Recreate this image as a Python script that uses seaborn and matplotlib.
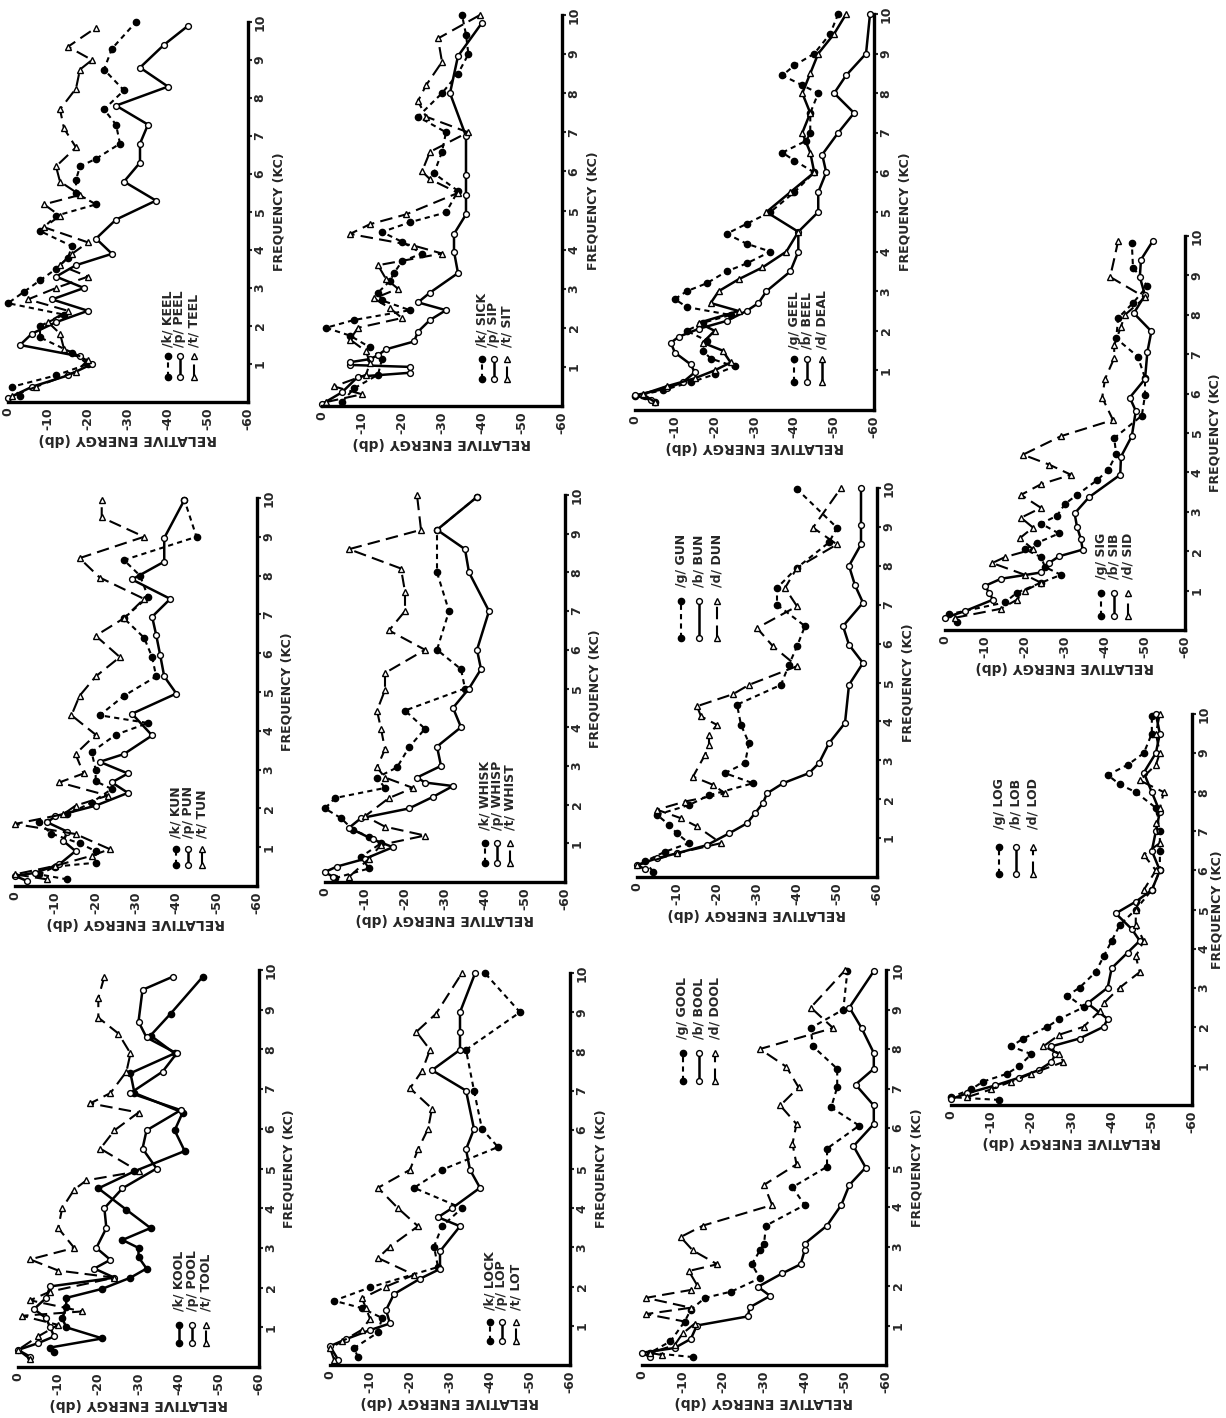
import matplotlib
matplotlib.use("Agg")
import matplotlib.pyplot as plt
import pandas as pd
import seaborn as sns

# Relative energy (dB) vs frequency (kHz): (kHz, dB)
keel_k = [(0.15,-3),(0.4,-1),(0.7,-12),(1.0,-20),(1.3,-16),(1.7,-8),(2.0,-8),(2.3,-14),(2.6,0),(2.9,-4),(3.2,-8),(3.5,-12),(3.8,-15),(4.1,-16),(4.5,-8),(4.9,-12),(5.2,-22),(5.5,-17),(5.85,-17),(6.2,-18),(6.4,-22),(6.8,-28),(7.3,-27),(7.7,-24),(8.2,-29),(8.75,-24),(9.3,-26),(10.0,-32)]
keel_p = [(0.1,0),(0.4,-6),(0.7,-15),(1.0,-21),(1.2,-18),(1.5,-3),(1.8,-6),(2.1,-12),(2.4,-20),(2.7,-11),(3.0,-19),(3.3,-12),(3.6,-17),(3.9,-26),(4.3,-22),(4.8,-27),(5.3,-37),(5.8,-29),(6.3,-33),(6.8,-33),(7.3,-35),(7.8,-27),(8.3,-40),(8.8,-33),(9.4,-39),(9.9,-45)]
keel_t = [(0.15,-1),(0.4,-7),(0.8,-17),(1.1,-20),(1.4,-14),(1.8,-13),(2.1,-10),(2.4,-15),(2.7,-5),(3.0,-12),(3.3,-20),(3.6,-13),(3.9,-16),(4.2,-20),(4.6,-9),(4.9,-13),(5.2,-9),(5.45,-18),(5.8,-13),(6.2,-12),(6.7,-17),(7.2,-14),(7.7,-13),(8.25,-17),(8.75,-18),(9.0,-21),(9.35,-15),(9.85,-22)]

sick_k = [(0.1,-5),(0.45,-8),(0.8,-14),(1.2,-15),(1.5,-12),(1.8,-7),(2.0,-1),(2.2,-8),(2.45,-22),(2.7,-15),(2.9,-14),(3.2,-17),(3.4,-18),(3.7,-20),(3.9,-25),(4.2,-20),(4.45,-15),(4.7,-22),(4.95,-31),(5.5,-34),(5.95,-28),(6.5,-30),(7.0,-31),(7.4,-24),(8.0,-30),(8.5,-34),(9.0,-36.6),(9.5,-36),(10.0,-35)]
sick_p = [(0.05,0),(0.35,-5),(0.75,-9),(0.85,-22),(1.0,-22),(1.05,-7),(1.12,-7),(1.2,-12),(1.3,-14),(1.45,-16),(1.65,-23),(1.9,-24),(2.2,-27),(2.45,-31),(2.65,-24),(2.9,-27),(3.4,-34),(3.95,-33),(4.4,-33),(4.9,-36),(5.4,-36),(5.9,-36),(6.9,-36),(8.0,-32),(8.95,-34),(9.8,-40)]
sick_t = [(0.1,-1),(0.3,-10),(0.5,-3),(0.8,-11),(1.1,-12),(1.4,-11),(1.7,-7),(2.0,-9),(2.25,-20),(2.5,-17),(2.75,-13),(3.0,-19),(3.25,-16),(3.6,-14),(3.9,-30),(4.1,-23),(4.4,-7),(4.65,-12),(4.9,-21),(5.45,-34),(5.8,-27),(6.0,-25),(6.5,-27),(7.0,-36.5),(7.4,-26),(7.8,-24),(8.2,-26),(8.8,-30),(9.4,-29),(10.0,-39.5)]

geel_g = [(0.2,-5),(0.35,0),(0.5,-7),(0.7,-14),(0.9,-20),(1.1,-25),(1.3,-19),(1.5,-17),(1.75,-18),(2.0,-13),(2.2,-17),(2.4,-24),(2.6,-13),(2.8,-10),(3.0,-13),(3.2,-18),(3.5,-23),(3.7,-28),(4.0,-34),(4.2,-28),(4.45,-23),(4.7,-28),(5.0,-34),(5.5,-40),(6.0,-45),(6.3,-40),(6.5,-37),(6.8,-43),(7.0,-44),(7.5,-44),(8.0,-46),(8.2,-42),(8.45,-37),(8.7,-40),(9.0,-45),(9.5,-49),(10.0,-51)]
geel_b = [(0.25,-4),(0.37,0),(0.55,-8),(0.7,-12),(0.95,-15),(1.15,-14),(1.45,-10),(1.7,-9),(1.85,-11),(2.05,-16),(2.25,-23),(2.5,-28),(2.7,-31),(3.0,-33),(3.5,-39),(4.0,-41),(4.5,-41),(5.0,-46),(5.5,-46),(6.0,-48),(6.45,-47),(7.0,-51),(7.5,-55),(8.0,-50),(8.45,-53),(9.0,-58),(10.0,-59)]
geel_d = [(0.2,-5),(0.4,-2),(0.6,-8),(0.8,-15),(1.0,-20),(1.2,-24),(1.5,-22),(1.7,-17),(2.0,-20),(2.2,-16),(2.5,-26),(2.7,-19),(3.0,-21),(3.3,-26),(3.6,-32),(4.0,-38),(4.5,-41),(5.0,-33),(5.5,-39),(6.0,-45),(6.5,-44),(7.0,-42),(7.5,-44),(8.0,-42),(8.5,-44),(9.0,-46),(9.5,-50),(10.0,-53)]

kun_k = [(0.17,-13),(0.3,-6),(0.5,-10),(0.6,-20),(0.9,-20),(1.1,-16),(1.35,-9),(1.64,-6),(1.85,-13),(2.15,-19),(2.5,-24),(2.7,-20),(3.0,-20),(3.45,-19),(3.9,-25),(4.2,-33),(4.4,-21),(4.9,-27),(5.4,-35),(5.9,-34),(6.4,-32),(6.9,-27),(7.45,-33),(8.0,-31),(8.4,-27),(9.0,-45),(9.95,-42)]
kun_p = [(0.13,-3),(0.26,0),(0.34,-5),(0.56,-11),(0.9,-15),(1.16,-12),(1.4,-13),(1.64,-8),(1.8,-10),(2.07,-20),(2.4,-28),(2.67,-24),(2.9,-28),(3.2,-21),(3.4,-27),(3.88,-34),(4.44,-29),(4.96,-40),(5.4,-37),(5.95,-36),(6.47,-35),(6.94,-34),(7.4,-38.5),(7.9,-29),(8.36,-37),(8.97,-37),(9.95,-42)]
kun_t = [(0.17,-8),(0.3,0),(0.52,-10),(0.78,-19),(0.95,-23.5),(1.34,-15),(1.6,0),(1.85,-12),(2.07,-15),(2.33,-23),(2.67,-11),(2.9,-17),(3.4,-15),(3.9,-20),(4.4,-14),(4.9,-16),(5.4,-20),(5.9,-26),(6.45,-20),(6.9,-27),(7.4,-32),(7.95,-21),(8.45,-16),(9.0,-32),(9.5,-21.5),(9.96,-21.5)]

whisk_k = [(0.1,-2.5),(0.35,-11),(0.65,-9),(1.0,-14),(1.17,-11),(1.35,-7),(1.65,-4),(1.9,0),(2.17,-2.5),(2.43,-15),(2.7,-13),(2.96,-18),(3.48,-21),(3.96,-25),(4.43,-20),(5.0,-35),(5.5,-34),(6.0,-28),(7.0,-31),(8.0,-28),(9.1,-28),(9.95,-38)]
whisk_p = [(0.13,-2),(0.26,0),(0.4,-3),(0.6,-10),(0.9,-17),(1.1,-12),(1.4,-6),(1.65,-9),(1.9,-21),(2.2,-27),(2.48,-32),(2.57,-25),(2.7,-23),(3.0,-29),(3.5,-28),(4.0,-34),(4.5,-32),(5.0,-36),(5.5,-39),(6.0,-38),(7.0,-41),(8.0,-36),(8.6,-35),(9.1,-28),(9.95,-38)]
whisk_t = [(0.13,-6),(0.6,-11),(0.96,-14),(1.2,-25),(1.43,-15),(1.7,-10),(2.17,-16),(2.43,-22),(2.7,-15),(2.96,-13),(3.43,-15),(3.96,-14),(4.43,-13),(4.96,-15),(5.4,-15),(6.0,-25),(6.5,-16),(7.0,-20),(7.5,-20),(8.1,-19),(8.6,-6),(9.1,-24),(10.0,-23)]

gun_g = [(0.14,-4),(0.4,-2),(0.65,-7),(0.87,-13),(1.12,-10),(1.34,-8),(1.6,-5),(1.85,-13),(2.1,-18),(2.41,-29),(2.67,-22),(2.93,-27),(3.44,-28),(3.91,-26),(4.43,-25),(4.94,-36),(5.46,-38),(5.93,-40),(6.45,-42),(7.0,-35),(7.43,-35),(7.95,-40),(8.6,-48),(8.98,-50),(9.97,-40)]
gun_b = [(0.2,-2),(0.31,0),(0.48,-5),(0.61,-10),(0.82,-17.5),(1.12,-23),(1.38,-27.5),(1.64,-29.5),(1.9,-31.5),(2.15,-32.5),(2.41,-36.5),(2.67,-43),(2.93,-45.5),(3.44,-48),(3.96,-52),(4.94,-53),(5.5,-56.5),(5.97,-53),(6.45,-51.5),(7.05,-56.5),(7.5,-54.5),(8.0,-53),(8.55,-56),(9.06,-56),(10.0,-56)]
gun_d = [(0.3,0),(0.61,-10),(0.87,-21),(1.3,-15),(1.51,-11),(1.73,-5),(1.94,-12),(2.15,-22),(2.37,-19),(2.58,-14),(3.14,-17),(3.4,-18),(3.66,-18),(3.91,-20),(4.13,-16),(4.39,-15),(4.7,-24),(4.94,-28),(5.42,-40),(5.93,-34),(6.4,-30),(6.96,-40),(7.43,-37),(7.95,-40),(8.55,-50),(8.98,-44),(10.0,-51)]

kool_k = [(0.38,-9),(0.49,-8),(0.72,-21),(1.0,-12),(1.23,-11),(1.5,-12),(1.74,-12),(1.97,-21),(2.25,-28),(2.48,-32),(2.77,-30),(3.0,-30),(3.2,-26),(3.5,-33),(3.96,-27),(4.5,-20),(4.93,-29),(5.44,-41.5),(5.96,-39),(6.41,-41),(6.9,-29),(7.4,-28),(7.9,-39),(8.35,-33),(8.9,-38),(9.83,-46)]
kool_p = [(0.26,-3),(0.43,0),(0.6,-5),(0.77,-9),(1.0,-8),(1.23,-7),(1.46,-4),(1.74,-7),(2.03,-8),(2.25,-24),(2.48,-19),(2.7,-23),(3.0,-19.5),(3.5,-22),(4.0,-21.5),(4.5,-26),(5.0,-34.5),(5.5,-31),(5.96,-32),(6.47,-40.5),(6.9,-28),(7.44,-36),(7.9,-39.5),(8.3,-32),(8.7,-30),(9.5,-31),(9.83,-38.5)]
kool_t = [(0.2,-3),(0.43,0),(0.77,-5),(1.06,-10),(1.29,-1),(1.4,-16),(1.68,-3),(1.9,-8),(2.25,-24),(2.43,-10),(2.71,-3),(3.0,-14),(3.5,-10),(4.0,-11),(4.47,-14),(4.7,-17),(4.93,-30),(5.5,-20.5),(5.96,-24),(6.41,-30),(6.64,-18),(6.9,-23),(7.44,-27),(7.9,-28),(8.4,-25),(8.8,-20),(9.3,-20),(9.83,-21.5)]

lock_k = [(0.2,-7),(0.43,-6),(0.83,-12),(1.2,-13),(1.45,-8),(1.64,-1),(1.98,-10),(2.5,-27),(3.02,-26),(3.54,-28),(4.0,-33),(4.52,-21),(4.98,-28),(5.56,-42),(6.02,-38),(7.0,-36),(8.04,-34),(9.0,-47.5),(10.0,-38.7)]
lock_p = [(0.14,-2),(0.48,0),(0.66,-4),(0.89,-10),(1.06,-15),(1.4,-14),(1.81,-16),(2.2,-22.5),(2.45,-27.5),(2.9,-27.5),(3.54,-32.5),(3.77,-27),(4.0,-30.5),(4.52,-37.5),(4.98,-35),(5.5,-34),(6.02,-36),(7.0,-34),(7.52,-25.5),(8.04,-32.5),(8.5,-32.5),(9.0,-32.5),(10.0,-36.3)]
lock_t = [(0.14,-1),(0.43,0),(0.6,-3),(0.9,-8),(1.18,-10),(1.45,-9),(1.7,-8),(2.0,-14),(2.3,-21),(2.73,-12),(3.02,-15),(3.54,-22),(4.0,-17),(4.52,-12),(4.98,-20),(5.5,-22),(6.02,-24.5),(6.54,-25.5),(7.06,-20),(7.5,-23),(8.04,-25),(8.5,-21.6),(8.96,-26.5),(10.0,-33)]

gool_g = [(0.2,-12.5),(0.31,-2),(0.6,-7),(1.1,-10.5),(1.4,-12),(1.7,-15.5),(1.86,-22),(2.2,-29),(2.55,-27),(2.9,-29),(3.07,-30),(3.53,-30.5),(4.05,-40),(4.5,-37),(5.02,-45.5),(5.48,-45.5),(6.06,-53.4),(6.52,-46.5),(7.03,-48),(7.5,-48),(8.07,-42),(8.53,-41.5),(9.0,-49.5),(9.97,-50.5)]
gool_b = [(0.2,-2),(0.31,0),(0.43,-8),(0.66,-12),(1.0,-13.5),(1.23,-26),(1.46,-26.5),(1.75,-31.5),(1.98,-28.5),(2.32,-34.5),(2.55,-39),(2.9,-40),(3.07,-40),(3.53,-45.5),(4.05,-49),(4.56,-51),(5.0,-55),(5.54,-52),(6.1,-57),(6.57,-57),(7.1,-52.5),(7.5,-57),(7.9,-57),(8.53,-54),(9.05,-51),(9.97,-57)]
gool_d = [(0.25,-5),(0.31,-2),(0.5,-8),(0.8,-10),(1.05,-13),(1.29,-1),(1.45,-12),(1.7,-1),(1.9,-12),(2.03,-13.5),(2.38,-11.5),(2.55,-18.5),(2.9,-12.5),(3.24,-9.5),(3.53,-15),(4.05,-32),(4.56,-30),(5.08,-38),(5.6,-37),(6.1,-38),(6.57,-34),(7.03,-38.5),(7.55,-35.5),(8.0,-29),(8.53,-47),(9.05,-41.5),(10.0,-50)]

log_g = [(0.13,-12),(0.2,0),(0.4,-5),(0.6,-8),(0.8,-14),(1.0,-17),(1.3,-20),(1.5,-15),(1.7,-18),(2.0,-24),(2.2,-27),(2.5,-33),(2.8,-29),(3.0,-32),(3.4,-36),(3.8,-38),(4.2,-40),(4.6,-42),(5.0,-46),(5.5,-50),(6.0,-52),(6.5,-52),(7.0,-52),(7.6,-51),(8.0,-46),(8.2,-42),(8.44,-39),(8.7,-44),(9.0,-48),(9.5,-50),(9.95,-50)]
log_b = [(0.15,0),(0.3,-4),(0.5,-11),(0.7,-17),(0.9,-22),(1.1,-25),(1.3,-26),(1.5,-25),(1.7,-32),(2.0,-38),(2.2,-39),(2.6,-34),(3.0,-39),(3.5,-40),(3.9,-44),(4.2,-47),(4.5,-45),(4.9,-41),(5.2,-46),(5.5,-50),(6.0,-52),(6.5,-50),(7.0,-51),(7.5,-52),(8.0,-50),(8.5,-48),(9.0,-51),(9.5,-52),(10.0,-51)]
log_d = [(0.2,-4),(0.4,-10),(0.6,-15),(0.8,-20),(1.1,-28),(1.3,-27),(1.5,-23),(1.8,-27),(2.0,-33),(2.4,-37),(2.6,-38),(3.0,-42),(3.4,-47),(3.8,-46),(4.2,-48),(4.6,-46),(5.0,-46),(5.5,-48),(6.0,-51),(6.4,-48),(6.7,-52),(7.2,-51),(7.6,-52),(8.0,-53),(8.3,-47),(8.7,-51),(9.0,-52),(9.5,-51),(10.0,-52)]

sig_g = [(0.2,-3),(0.4,-1),(0.7,-15),(0.95,-18),(1.2,-24),(1.4,-29),(1.6,-25),(1.85,-24),(2.05,-20),(2.21,-23),(2.45,-28.5),(2.7,-24),(2.9,-28),(3.2,-30),(3.43,-33),(3.8,-38),(4.06,-40.8),(4.46,-42.8),(4.87,-42.3),(5.44,-49.2),(5.96,-50),(6.4,-50),(6.94,-48.2),(7.4,-42.8),(7.92,-43.3),(8.3,-47),(8.73,-50.6),(9.2,-47),(9.83,-46.7)]
sig_b = [(0.31,0),(0.48,-5),(0.77,-12),(0.95,-11),(1.12,-10),(1.3,-14),(1.46,-24),(1.7,-26),(1.87,-28.5),(2.04,-34.4),(2.3,-34),(2.62,-33),(2.96,-32.4),(3.37,-36),(3.94,-43.8),(4.4,-44),(4.92,-46.7),(5.56,-47.7),(5.9,-46.2),(6.37,-50),(7.06,-50.6),(7.58,-51.6),(8.04,-47.2),(8.5,-50),(8.96,-48.7),(9.4,-49),(9.88,-52)]
sig_d = [(0.31,-2.5),(0.54,-14),(0.77,-18),(1.0,-20),(1.2,-24),(1.4,-20),(1.7,-11.8),(1.85,-15),(2.05,-22),(2.33,-18.7),(2.6,-22),(2.85,-19),(3.1,-24),(3.43,-19),(3.7,-24),(3.94,-31.5),(4.2,-26),(4.45,-19.5),(4.92,-29),(5.33,-42),(5.9,-39.3),(6.37,-40),(6.9,-42.3),(7.23,-42.3),(7.7,-44),(8.0,-45),(8.44,-50),(8.96,-41.3),(9.88,-43.3)]

db_ticks = [0, -10, -20, -30, -40, -50, -60]
db_labels = ["0", "-10", "-20", "-30", "-40", "-50", "-60"]
khz_ticks = [1, 2, 3, 4, 5, 6, 7, 8, 9, 10]
khz_labels = ["1", "2", "3", "4", "5", "6", "7", "8", "9", "10"]

sns.set_style("white")
plt.rcParams['font.family'] = ['DejaVu Sans']

STY = {
    'fdot':   dict(linestyle=(0, (2.5, 2)), marker='o', markerfacecolor='black', markersize=4.5, linewidth=1.5),
    'fsolid': dict(linestyle='-', marker='o', markerfacecolor='black', markersize=4.5, linewidth=1.8),
    'osolid': dict(linestyle='-', marker='o', markerfacecolor='white', markersize=4.2, linewidth=1.8),
    'tdash':  dict(linestyle=(0, (6, 3)), marker='^', markerfacecolor='white', markersize=3.8, linewidth=1.5),
    'tsolid': dict(linestyle='-', marker='^', markerfacecolor='white', markersize=3.8, linewidth=1.8),
}

# frame in pixels: x at 0 dB, x at -60 dB, y at 10 kHz, y at 0 kHz
# legend: x positions (dB), key range (kHz), text start (kHz)
panels = [
    ((8, 248, 22, 402), [keel_k, keel_p, keel_t], ['fdot', 'osolid', 'tdash'],
     ["/k/ KEEL", "/p/ PEEL", "/t/ TEEL"], [-40, -43, -46.5], (0.65, 1.2), 1.45),
    ((322, 562, 15, 406), [sick_k, sick_p, sick_t], ['fdot', 'osolid', 'tdash'],
     ["/k/ SICK", "/p/ SIP", "/t/ SIT"], [-40, -43, -46.3], (0.7, 1.2), 1.5),
    ((635, 874, 14, 410), [geel_g, geel_b, geel_d], ['fdot', 'osolid', 'tsolid'],
     ["/g/ GEEL", "/b/ BEEL", "/d/ DEAL"], [-40, -43.3, -47], (0.7, 1.3), 1.55),
    ((15, 257, 498, 886), [kun_k, kun_p, kun_t], ['fdot', 'osolid', 'tdash'],
     ["/k/ KUN", "/p/ PUN", "/t/ TUN"], [-40, -43, -46.3], (0.55, 0.95), 1.25),
    ((325, 565, 495, 882), [whisk_k, whisk_p, whisk_t], ['fdot', 'osolid', 'tdash'],
     ["/k/ WHISK", "/p/ WHISP", "/t/ WHIST"], [-40, -43, -46.3], (0.5, 1.0), 1.35),
    ((637, 877, 488, 877), [gun_g, gun_b, gun_d], ['fdot', 'osolid', 'tdash'],
     ["/g/ GUN", "/b/ BUN", "/d/ DUN"], [-11, -15.5, -20], (6.15, 7.1), 7.45),
    ((18, 259, 970, 1367), [kool_k, kool_p, kool_t], ['fsolid', 'osolid', 'tdash'],
     ["/k/ KOOL", "/p/ POOL", "/t/ TOOL"], [-40, -43.4, -46.8], (0.6, 1.06), 1.4),
    ((330, 570, 973, 1365), [lock_k, lock_p, lock_t], ['fdot', 'osolid', 'tdash'],
     ["/k/ LOCK", "/p/ LOP", "/t/ LOT"], [-40, -43, -46.6], (0.6, 1.1), 1.4),
    ((642, 886, 970, 1365), [gool_g, gool_b, gool_d], ['fdot', 'osolid', 'tdash'],
     ["/g/ GOOL", "/b/ BOOL", "/d/ DOOL"], [-10, -14, -18], (7.2, 7.9), 8.25),
    ((945, 1185, 236, 630), [sig_g, sig_b, sig_d], ['fdot', 'osolid', 'tdash'],
     ["/g/ SIG", "/b/ SIB", "/d/ SID"], [-39, -42.3, -45.7], (0.35, 0.95), 1.3),
    ((951, 1192, 714, 1105), [log_g, log_b, log_d], ['fdot', 'osolid', 'tdash'],
     ["/g/ LOG", "/b/ LOB", "/d/ LOD"], [-12, -16.3, -20.5], (5.9, 6.6), 7.05),
]

W, H = 1226, 1418
fig = plt.figure(figsize=(W / 100, H / 100), dpi=100)
fig.patch.set_facecolor('white')

for frame, series, styles, names, leg_x, leg_f, leg_t in panels:
    x0, x1, yt, yb = frame
    ax = fig.add_axes([x0 / W, 1 - yb / H, (x1 - x0) / W, (yb - yt) / H])
    ax.set_facecolor('none')
    for pts, st in zip(series, styles):
        df = pd.DataFrame(pts, columns=['khz', 'db'])
        sns.lineplot(data=df, x='db', y='khz', sort=False, estimator=None, ax=ax,
                     color='black', markeredgecolor='black', markeredgewidth=1.0,
                     clip_on=False, **STY[st])
    # legend keys drawn like the original: short vertical segments + vertical text
    for xk, st, name in zip(leg_x, styles, names):
        ax.plot([xk, xk], list(leg_f), color='black', markeredgecolor='black',
                markeredgewidth=1.0, clip_on=False, **STY[st])
        ax.text(xk, leg_t, name, rotation=90, ha='center', va='bottom',
                fontsize=9, fontweight='bold')

    ax.set_xlim(0, -60)
    ax.set_ylim(0, 10)
    for s in ['left', 'top']:
        ax.spines[s].set_visible(False)
    for s in ['bottom', 'right']:
        ax.spines[s].set_linewidth(2.4)
        ax.spines[s].set_color('black')

    ax.set_xticks(db_ticks)
    ax.set_xticklabels(db_labels, rotation=90, fontsize=9, fontweight='bold')
    ax.yaxis.tick_right()
    ax.set_yticks(khz_ticks)
    ax.set_yticklabels(khz_labels, rotation=90, va='center', fontsize=9, fontweight='bold')
    ax.tick_params(axis='x', direction='in', length=6, width=1.5, pad=4)
    ax.tick_params(axis='y', direction='out', length=3, width=1.5, pad=1,
                   right=True, left=False)

    ax.set_xlabel("RELATIVE ENERGY (db)", rotation=180, fontsize=10,
                  fontweight='bold', labelpad=1)
    ax.yaxis.set_label_position('right')
    ax.set_ylabel("FREQUENCY (KC)", rotation=90, fontsize=9, fontweight='bold')
    gap = min(24, W - 15 - x1)
    ax.yaxis.set_label_coords(1 + gap / (x1 - x0), 0.5)

fig.savefig("out.png", dpi=100, facecolor='white')
